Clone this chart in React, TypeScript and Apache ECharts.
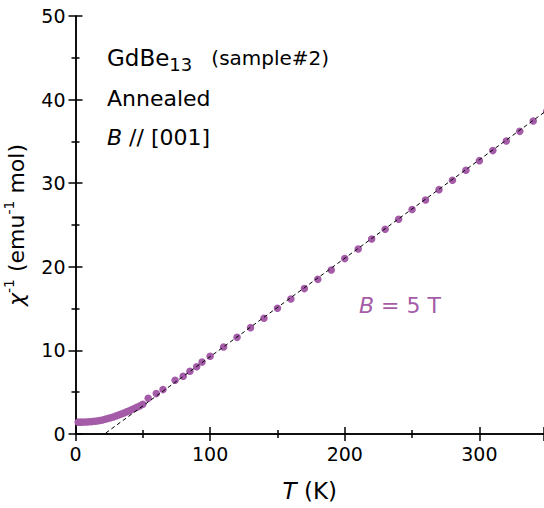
import React, { useEffect, useRef } from 'react';
import * as echarts from 'echarts';

// Low-temperature (dense) data: T (K), chi^-1 (emu^-1 mol)
const lowT = [2, 4, 6, 8, 10, 12, 14, 16, 18, 20, 22, 24, 26, 28, 30, 32, 34, 36, 38, 40, 42, 44, 46, 48, 50];
const lowChi = [1.42, 1.42, 1.43, 1.44, 1.46, 1.48, 1.52, 1.56, 1.62, 1.68, 1.76, 1.85, 1.94, 2.04, 2.15, 2.27, 2.39, 2.52, 2.65, 2.79, 2.93, 3.07, 3.22, 3.38, 3.55];

// Higher-temperature data points
const highT = [54, 60, 65, 74, 80, 85, 90, 94, 100, 110, 120, 130, 140, 150, 160, 170, 180, 190, 200, 210, 220, 230, 240, 250, 260, 270, 280, 290, 300, 310, 320, 330, 340, 350];
const highChi = [4.27, 4.83, 5.31, 6.42, 6.9, 7.5, 8.05, 8.6, 9.29, 10.4, 11.56, 12.72, 13.84, 15.04, 16.15, 17.39, 18.5, 19.62, 20.98, 22.13, 23.33, 24.49, 25.69, 26.85, 28.0, 29.23, 30.35, 31.54, 32.7, 33.9, 35.05, 36.2, 37.44, 38.6];

// Curie-Weiss fit line endpoints
const fitT = [22.5, 352];
const fitChi = [0.12, 38.93];

const xTickValues = [0, 100, 200, 300];
const yTickValues = [0, 10, 20, 30, 40, 50];

const PURPLE = '#a55ca8';
const FONT = 'DejaVu Sans';

export default function App() {
  const ref = useRef<HTMLDivElement>(null);
  useEffect(() => {
    document.body.style.margin = '0';
    const chart = echarts.init(ref.current!, null, { renderer: 'svg' });
    const axisCommon = {
      axisLine: { show: true, lineStyle: { color: '#000', width: 1.5 } },
      axisTick: { show: true, inside: true, length: 7, lineStyle: { color: '#000', width: 1.5 } },
      minorTick: { show: true, splitNumber: 2, length: 4, lineStyle: { color: '#000', width: 1.5 } },
      splitLine: { show: false },
      minorSplitLine: { show: false },
    };
    chart.setOption({
      animation: false,
      grid: { left: 75.5, right: 0, top: 16, bottom: 74, containLabel: false, outerBoundsMode: 'none' },
      xAxis: [
        {
          type: 'value', min: 0, max: 348, interval: 100, position: 'bottom',
          ...axisCommon,
          axisLabel: {
            fontSize: 19, color: '#000', fontFamily: FONT, margin: 10,
            formatter: (v: number) => (xTickValues.includes(v) ? String(v) : ''),
          },
          name: '{i|T} (K)', nameLocation: 'middle', nameGap: 45,
          nameTextStyle: {
            fontSize: 23, color: '#000', fontFamily: FONT,
            rich: { i: { fontSize: 23, fontStyle: 'italic', fontFamily: FONT, color: '#000' } },
          },
        },
        {
          type: 'value', min: 0, max: 348, interval: 100, position: 'top',
          ...axisCommon,
          axisLabel: { show: false },
        },
      ],
      yAxis: [
        {
          type: 'value', min: 0, max: 50, interval: 10, position: 'left',
          ...axisCommon,
          axisLabel: {
            fontSize: 19, color: '#000', fontFamily: FONT, margin: 10,
            formatter: (v: number) => (yTickValues.includes(v) ? String(v) : ''),
          },
          name: '{i|χ}{s|-1} (emu{s|-1} mol)', nameLocation: 'middle', nameGap: 32,
          nameTextStyle: {
            fontSize: 22, color: '#000', fontFamily: FONT, lineHeight: 28,
            rich: {
              i: { fontSize: 22, fontStyle: 'italic', fontFamily: FONT, color: '#000', lineHeight: 28 },
              s: { fontSize: 14, fontFamily: FONT, color: '#000', verticalAlign: 'top', lineHeight: 15 },
            },
          },
        },
        {
          type: 'value', min: 0, max: 50, interval: 10, position: 'right',
          ...axisCommon,
          axisLabel: { show: false },
        },
      ],
      series: [
        {
          type: 'scatter', name: 'lowT', data: lowT.map((t, i) => [t, lowChi[i]]),
          symbolSize: 7.5, itemStyle: { color: PURPLE, opacity: 1 },
        },
        {
          type: 'scatter', name: 'highT', data: highT.map((t, i) => [t, highChi[i]]),
          symbolSize: 7.5, itemStyle: { color: PURPLE, opacity: 1 }, clip: false,
        },
        {
          type: 'line', name: 'fit', data: fitT.map((t, i) => [t, fitChi[i]]),
          symbol: 'none', lineStyle: { color: '#000', width: 1, type: [4, 3] }, z: 5,
        },
      ],
      graphic: [
        {
          type: 'text', x: 107, y: 58,
          style: {
            text: '{a|GdBe}{s|13}{b|   (sample#2)}',
            fill: '#000', fontFamily: FONT, verticalAlign: 'middle', align: 'left',
            rich: {
              a: { fontSize: 23, fontFamily: FONT, lineHeight: 30 },
              s: { fontSize: 18, fontFamily: FONT, verticalAlign: 'bottom', lineHeight: 20 },
              b: { fontSize: 20, fontFamily: FONT, lineHeight: 30 },
            },
          },
        },
        {
          type: 'text', x: 107, y: 98,
          style: { text: 'Annealed', fill: '#000', fontSize: 22, fontFamily: FONT, verticalAlign: 'middle', align: 'left' },
        },
        {
          type: 'text', x: 107, y: 137,
          style: {
            text: '{i|B} // [001]',
            fill: '#000', fontSize: 22, fontFamily: FONT, verticalAlign: 'middle', align: 'left',
            rich: { i: { fontSize: 22, fontStyle: 'italic', fontFamily: FONT } },
          },
        },
        {
          type: 'text', x: 359, y: 305,
          style: {
            text: '{i|B} = 5 T',
            fill: PURPLE, fontSize: 22, fontFamily: FONT, verticalAlign: 'middle', align: 'left',
            rich: { i: { fontSize: 22, fontStyle: 'italic', fontFamily: FONT, fill: PURPLE } },
          },
        },
      ],
    });
    return () => chart.dispose();
  }, []);
  return <div ref={ref} style={{ width: 544, height: 508 }} />;
}
